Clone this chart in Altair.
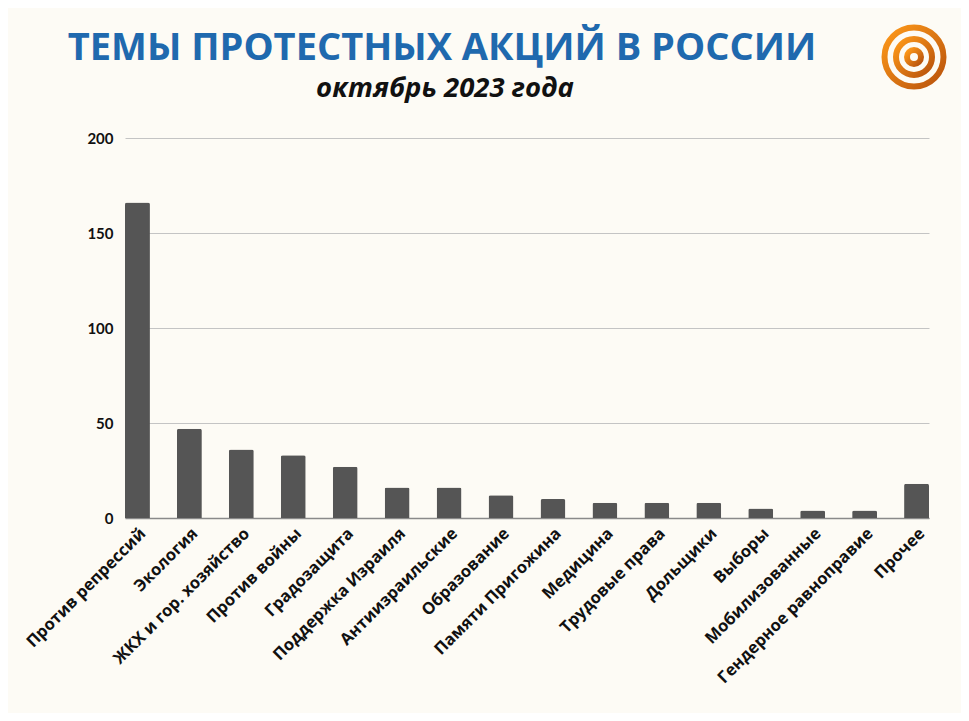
import altair as alt
import pandas as pd

categories = ["Против репрессий", "Экология", "ЖКХ и гор. хозяйство", "Против войны",
              "Градозащита", "Поддержка Израиля", "Антиизраильские", "Образование",
              "Памяти Пригожина", "Медицина", "Трудовые права", "Дольщики", "Выборы",
              "Мобилизованные", "Гендерное равноправие", "Прочее"]
values = [166, 47, 36, 33, 27, 16, 16, 12, 10, 8, 8, 8, 5, 4, 4, 18]
y_ticks = [0, 50, 100, 150, 200]
title_text = "ТЕМЫ ПРОТЕСТНЫХ АКЦИЙ В РОССИИ"
subtitle_text = "октябрь 2023 года"

df = pd.DataFrame({"topic": categories, "count": values})

bars = alt.Chart(df).mark_bar(
    color="#555555", cornerRadiusTopLeft=2, cornerRadiusTopRight=2
).encode(
    x=alt.X("topic:N", sort=None, title=None,
            scale=alt.Scale(paddingInner=0.52, paddingOuter=0),
            axis=alt.Axis(labelAngle=315, labelFont="Open Sans", labelFontWeight="bold",
                          labelFontSize=16.5, labelColor="#111111", ticks=False,
                          labelPadding=7, domainColor="#8a8a8a", domainWidth=1.5,
                          labelOverlap=False, labelLimit=300)),
    y=alt.Y("count:Q", title=None, scale=alt.Scale(domain=[0, 200]),
            axis=alt.Axis(values=y_ticks, labelFont="Lato", labelFontWeight="bold",
                          labelFontSize=15, labelColor="#111111", ticks=False,
                          domain=False, labelPadding=12, gridColor="#c4c4c4",
                          gridWidth=1)),
)

one = alt.Data(values=[{}])

title = alt.Chart(one).mark_text(
    text=title_text, font="Open Sans", fontSize=38, fontWeight="bold",
    color="#1F69AE", align="center", baseline="alphabetic"
).encode(x=alt.value(317), y=alt.value(-78))

subtitle = alt.Chart(one).mark_text(
    text=subtitle_text, font="Open Sans", fontSize=27.5, fontWeight="bold",
    fontStyle="italic", color="#111111", align="center", baseline="alphabetic"
).encode(x=alt.value(320), y=alt.value(-41))

grad = alt.LinearGradient(
    gradient="linear",
    stops=[alt.GradientStop(color="#FF9A1A", offset=0),
           alt.GradientStop(color="#B8520C", offset=1)],
    x1=0, y1=0, x2=1, y2=1,
)

def ring(size):
    return alt.Chart(one).mark_point(
        shape="circle", filled=False, stroke=grad, strokeWidth=6, opacity=1
    ).encode(x=alt.value(789), y=alt.value(-81), size=alt.value(size))

chart = alt.layer(bars, title, subtitle, ring(3481), ring(1296), ring(196)).properties(
    width=804, height=380,
    padding={"left": 117, "top": 130, "right": 32, "bottom": 195},
    autosize=alt.AutoSizeParams(type="none"),
).configure(background="#FDFBF5").configure_view(stroke=None)

chart.save("out.html", embed_options={"renderer": "svg", "actions": False})
